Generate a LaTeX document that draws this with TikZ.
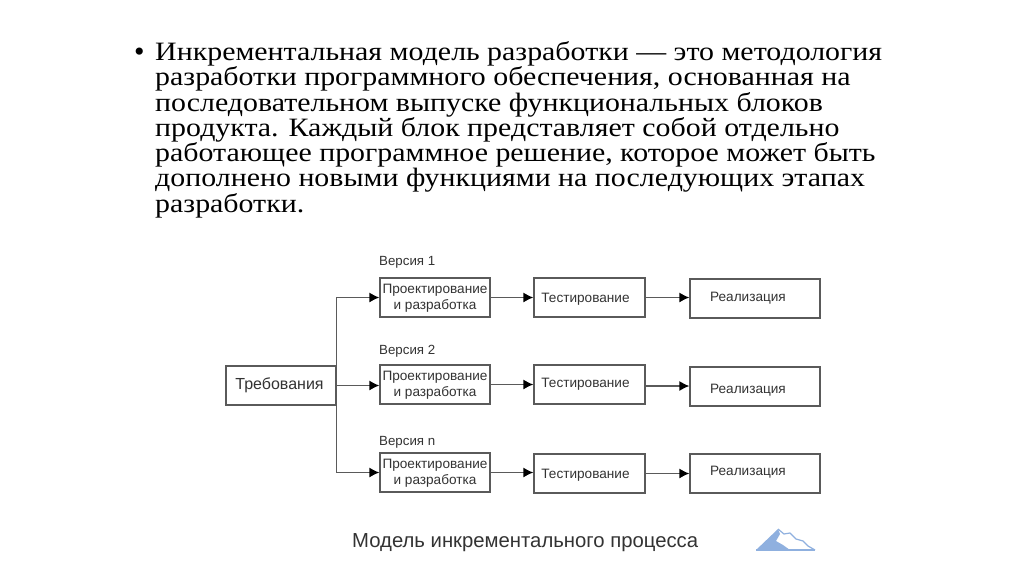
\documentclass[tikz,border=0pt]{standalone}
\usepackage{fontspec}
\setmainfont{Liberation Serif}
\newfontfamily\dsans{Liberation Sans}
\usetikzlibrary{arrows.meta}
\definecolor{lineg}{HTML}{5A5A5A}
\definecolor{txtg}{HTML}{333333}
\definecolor{mtn}{HTML}{8FB0DF}
\tikzset{
  x=1pt,y=-1pt,
  bodyline/.style={anchor=base west,inner sep=0pt,xscale=1.128,transform shape,font=\fontsize{26.5}{27}\selectfont,text=black},
  boxn/.style={draw=lineg,line width=1.3pt,fill=white,inner sep=0pt,align=center,text=txtg,font=\dsans\fontsize{13.6}{16}\selectfont},
  vertag/.style={anchor=base west,inner sep=0pt,text=txtg,font=\dsans\fontsize{13.3}{15}\selectfont},
  conn/.style={draw=lineg,line width=1.3pt,-{Latex[length=10pt,width=10pt,black]}}
}
\newcommand{\mvtxt}[2]{\vphantom{Ар}\smash{\raisebox{#1}{#2}}}
\begin{document}
\begin{tikzpicture}
\useasboundingbox (0,0) rectangle (1024,574);
\fill[white] (0,0) rectangle (1024,574);
\node[anchor=base west,inner sep=0pt,font=\fontsize{29.9}{30}\selectfont] (bul) at (134,61) {•};
\node[bodyline] (l1) at (155,60.5) {Инкрементальная модель разработки — это методология};
\node[bodyline] (l2) at (155,85.7) {разработки программного обеспечения, основанная на};
\node[bodyline] (l3) at (155,111) {последовательном выпуске функциональных блоков};
\node[bodyline] (l4) at (155,136.2) {продукта. Каждый блок представляет собой отдельно};
\node[bodyline] (l5) at (155,161.5) {работающее программное решение, которое может быть};
\node[bodyline] (l6) at (155,186.7) {дополнено новыми функциями на последующих этапах};
\node[bodyline] (l7) at (155,212) {разработки.};

\node[boxn,minimum width=110pt,minimum height=39pt,font=\dsans\fontsize{16}{18}\selectfont] (req) at (281,385.5) {\hspace*{-3pt}Требования};

\node[vertag] (v1) at (379,265) {Версия 1};
\node[vertag] (v2) at (379,354) {Версия 2};
\node[vertag] (vn) at (379,445) {Версия n};

\node[boxn,minimum width=110pt,minimum height=39pt] (p1) at (435,297.5) {\mvtxt{-1pt}{Проектирование}\\\mvtxt{-1pt}{и разработка}};
\node[boxn,minimum width=111pt,minimum height=39pt] (t1) at (589.5,297.5) {\hspace*{-8pt}\mvtxt{-2pt}{Тестирование}};
\node[boxn,minimum width=130pt,minimum height=39pt] (r1) at (755,298.5) {\hspace*{-14pt}\mvtxt{0pt}{Реализация}};

\node[boxn,minimum width=110pt,minimum height=39pt] (p2) at (435,384.5) {\mvtxt{-1pt}{Проектирование}\\\mvtxt{-1pt}{и разработка}};
\node[boxn,minimum width=111pt,minimum height=39pt] (t2) at (589.5,384.5) {\hspace*{-8pt}\mvtxt{0pt}{Тестирование}};
\node[boxn,minimum width=130pt,minimum height=39pt] (r2) at (755,386.5) {\hspace*{-14pt}\mvtxt{-3.5pt}{Реализация}};

\node[boxn,minimum width=110pt,minimum height=39pt] (p3) at (435,472.5) {\mvtxt{-1pt}{Проектирование}\\\mvtxt{-1pt}{и разработка}};
\node[boxn,minimum width=111pt,minimum height=39pt] (t3) at (589.5,473.5) {\hspace*{-8pt}\mvtxt{-2pt}{Тестирование}};
\node[boxn,minimum width=130pt,minimum height=39pt] (r3) at (755,473.5) {\hspace*{-14pt}\mvtxt{1pt}{Реализация}};

\draw[conn] (req.north east) |- (p1.west);
\draw[conn] (req.east) -- (req.east -| p2.west);
\draw[conn] (req.south east) |- (p3.west);
\foreach \a/\b in {p1/t1,t1/r1,p2/t2,p3/t3,t3/r3}{
  \draw[conn] (\a.east) -- (\a.east -| \b.west);
}
\draw[conn] ([yshift=-1.5pt]t2.east) -- ([yshift=-1.5pt]t2.east -| r2.west);

\node[anchor=base west,inner sep=0pt,text=txtg,font=\dsans\fontsize{20.3}{22}\selectfont] (cap) at (352,547) {Модель инкрементального процесса};

\fill[mtn] (756,550) -- (778,529) -- (780,534) -- (776,541) -- (783,545) -- (790,550) -- cycle;
\draw[mtn,line width=1.2pt,line join=round] (778,529) -- (784,534) -- (790,533) -- (796,539) -- (803,541) -- (808,546) -- (815,550);
\draw[mtn,line width=1.2pt] (756,550) -- (815,550);
\end{tikzpicture}
\end{document}
